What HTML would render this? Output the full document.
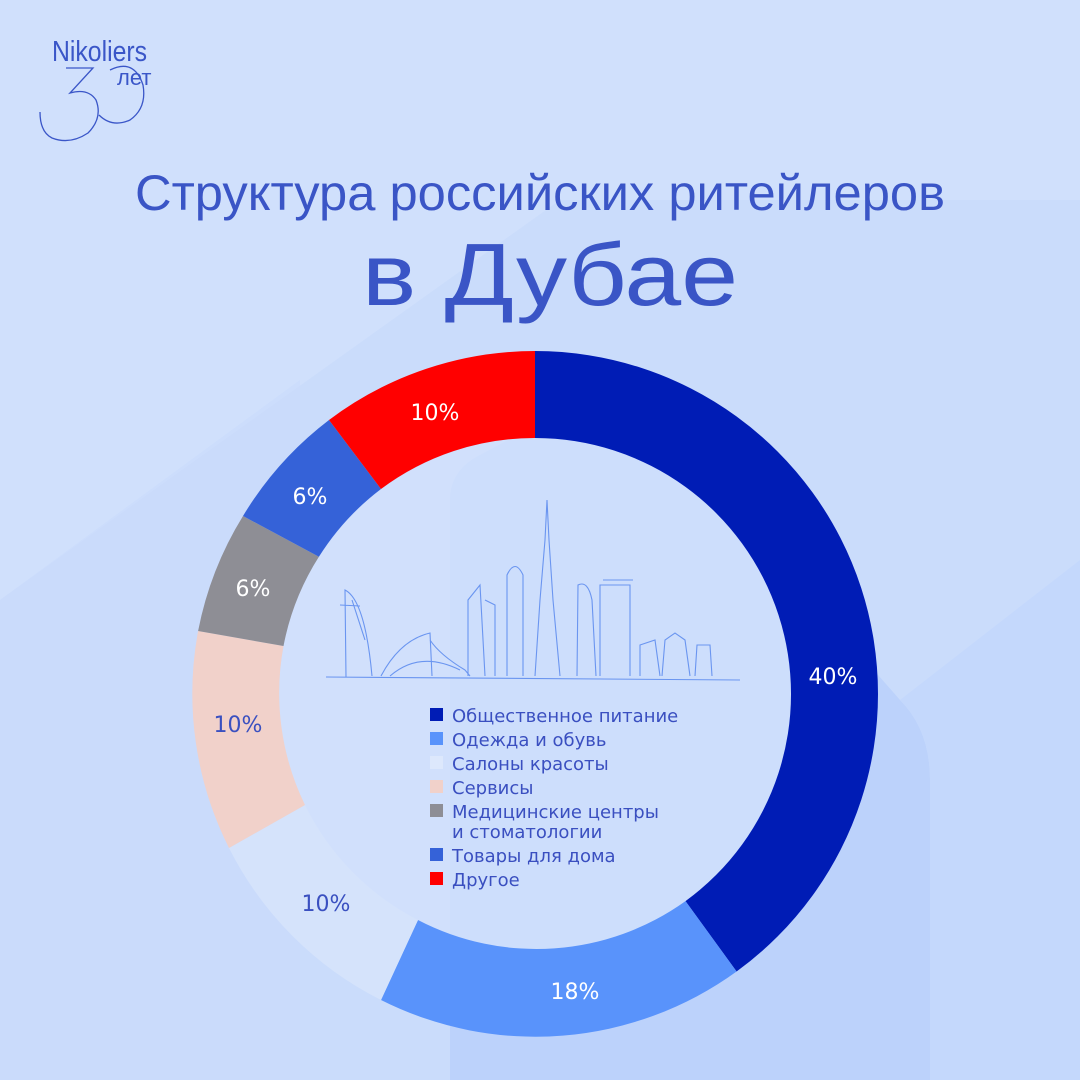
<!DOCTYPE html>
<html><head><meta charset="utf-8"><style>
html,body{margin:0;padding:0;width:1080px;height:1080px;overflow:hidden;background:#cddefb}
svg{display:block}
</style></head><body>
<svg width="1080" height="1080" viewBox="0 0 1080 1080" xmlns="http://www.w3.org/2000/svg">
<rect width="1080" height="1080" fill="#d0e0fc"/>
<polygon points="0,600 560,200 1080,200 1080,1080 0,1080" fill="#c8dafb" opacity="0.7"/>
<polygon points="0,1080 0,600 300,380 300,1080" fill="#c9dbfb" opacity="0.6"/>
<path d="M450,1080 L450,500 Q450,470 480,455 L620,380 L900,700 Q930,730 930,780 L930,1080 Z" fill="#bcd2fb"/>
<path d="M930,1080 L930,780 Q930,730 900,700 L1080,560 L1080,1080Z" fill="#c4d8fc"/>

<!-- logo -->
<g fill="none" stroke="#3a56c8" stroke-width="1.3">
<path d="M66,68 L93,68 L70,93 Q88,88 96,100 Q103,118 88,133 Q70,145 52,138 Q40,132 40,112"/>
<path d="M110,70 Q134,58 143,85 Q147,108 130,120 Q112,128 99,115"/>
</g>
<text x="52" y="61" font-family="Liberation Sans, sans-serif" font-size="29" fill="#3a56c8" textLength="95" lengthAdjust="spacingAndGlyphs">Nikoliers</text>
<text x="117" y="85" font-family="Liberation Sans, sans-serif" font-size="22" fill="#3a56c8">лет</text>

<text x="540" y="210" text-anchor="middle" font-family="Liberation Sans, sans-serif" font-size="50" fill="#3a55c6" textLength="810" lengthAdjust="spacingAndGlyphs">Структура российских ритейлеров</text>
<text x="550" y="305" text-anchor="middle" font-family="Liberation Sans, sans-serif" font-size="88" fill="#3a55c6" textLength="376" lengthAdjust="spacingAndGlyphs">в Дубае</text>

<circle cx="535" cy="694" r="256" fill="#d3e2fc" opacity="0.75"/>

<path d="M535,351 A343,343 0 0 1 736.6,971.5 L685.5,901.1 A256,256 0 0 0 535,438Z" fill="#001cb5"/>
<path d="M736.6,971.5 A343,343 0 0 1 381,1000 L418,920 A256,256 0 0 0 685.5,901.1Z" fill="#5993fb"/>
<path d="M381,1000 A343,343 0 0 1 229,848 L305,805 A256,256 0 0 0 418,920Z" fill="#d5e3fb"/>
<path d="M229,848 A343,343 0 0 1 198.1,631 L283.5,646 A256,256 0 0 0 305,805Z" fill="#f1d1ca"/>
<path d="M198.1,631 A343,343 0 0 1 243,516 L318.9,556.8 A256,256 0 0 0 283.5,646Z" fill="#8e8e95"/>
<path d="M243,516 A343,343 0 0 1 329,420 L381,489 A256,256 0 0 0 318.9,556.8Z" fill="#3562d8"/>
<path d="M329,420 A343,343 0 0 1 535,351 L535,438 A256,256 0 0 0 381,489Z" fill="#ff0000"/>

<g font-family="DejaVu Sans, sans-serif" font-size="22" text-anchor="middle">
<text x="833" y="684" fill="#fff">40%</text>
<text x="575" y="999" fill="#fff">18%</text>
<text x="326" y="911" fill="#3a50c0">10%</text>
<text x="238" y="732" fill="#3a50c0">10%</text>
<text x="253" y="596" fill="#fff">6%</text>
<text x="310" y="504" fill="#fff">6%</text>
<text x="435" y="420" fill="#fff">10%</text>
</g>

<!-- skyline -->
<g fill="none" stroke="#6a95f0" stroke-width="1.1">
<path d="M326,677 L740,680"/>
<path d="M346,677 L345,590 Q365,600 372,676 M352,600 L365,640 M340,605 L360,606"/>
<path d="M381,676 Q400,640 430,633 L432,676 M390,676 Q420,650 460,670 M430,640 Q440,655 465,670 L470,676"/>
<path d="M468,676 L468,600 L480,585 L485,676 M485,600 L495,605 L495,676"/>
<path d="M507,676 L507,575 Q515,558 523,575 L523,676"/>
<path d="M535,676 L540,600 L545,540 L547,500 L549,540 L553,600 L560,676"/>
<path d="M577,676 L578,585 Q588,580 592,600 L596,676"/>
<path d="M600,676 L600,585 L630,585 L630,676 M603,580 L633,580"/>
<path d="M640,676 L640,645 L655,640 L660,676 M662,676 L665,640 L675,633 L685,640 L690,676 M695,676 L697,645 L710,645 L712,676"/>
</g>

<g font-family="DejaVu Sans, sans-serif" font-size="18" fill="#3a4fc0">
<rect x="430" y="708" width="13" height="13" fill="#001cb5"/><text x="452" y="722">Общественное питание</text>
<rect x="430" y="732" width="13" height="13" fill="#5993fb"/><text x="452" y="746">Одежда и обувь</text>
<rect x="430" y="756" width="13" height="13" fill="#dde8fc"/><text x="452" y="770">Салоны красоты</text>
<rect x="430" y="780" width="13" height="13" fill="#f1d1ca"/><text x="452" y="794">Сервисы</text>
<rect x="430" y="804" width="13" height="13" fill="#8e8e95"/><text x="452" y="818">Медицинские центры</text>
<text x="452" y="838">и стоматологии</text>
<rect x="430" y="848" width="13" height="13" fill="#3562d8"/><text x="452" y="862">Товары для дома</text>
<rect x="430" y="872" width="13" height="13" fill="#ff0000"/><text x="452" y="886">Другое</text>
</g>
</svg>
</body></html>
